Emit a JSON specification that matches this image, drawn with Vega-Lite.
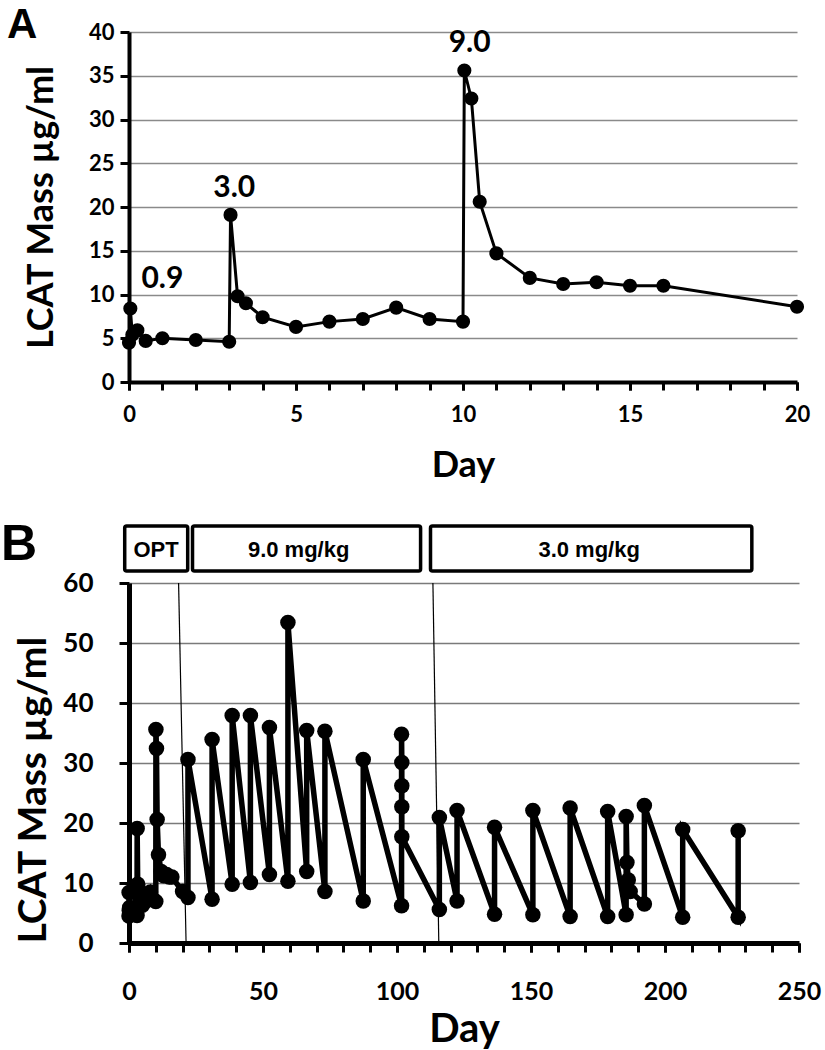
{
  "$schema": "https://vega.github.io/schema/vega-lite/v6.json",
  "background": "white",
  "padding": {"left": 1, "top": 3, "right": 5, "bottom": 0},
  "spacing": 37,
  "config": {"view": {"stroke": null}},
  "datasets": {
    "a": [
      {"i": 0, "day": 0, "v": 4.5}, {"i": 1, "day": 0.04, "v": 8.4}, {"i": 2, "day": 0.1, "v": 5.4},
      {"i": 3, "day": 0.25, "v": 5.9}, {"i": 4, "day": 0.5, "v": 4.7}, {"i": 5, "day": 1, "v": 5.0},
      {"i": 6, "day": 2, "v": 4.8}, {"i": 7, "day": 3, "v": 4.6}, {"i": 8, "day": 3.04, "v": 19.1},
      {"i": 9, "day": 3.25, "v": 9.8}, {"i": 10, "day": 3.5, "v": 9.0}, {"i": 11, "day": 4, "v": 7.4},
      {"i": 12, "day": 5, "v": 6.3}, {"i": 13, "day": 6, "v": 6.9}, {"i": 14, "day": 7, "v": 7.2},
      {"i": 15, "day": 8, "v": 8.5}, {"i": 16, "day": 9, "v": 7.2}, {"i": 17, "day": 10, "v": 6.9},
      {"i": 18, "day": 10.04, "v": 35.6}, {"i": 19, "day": 10.25, "v": 32.4}, {"i": 20, "day": 10.5, "v": 20.6},
      {"i": 21, "day": 11, "v": 14.7}, {"i": 22, "day": 12, "v": 11.9}, {"i": 23, "day": 13, "v": 11.2},
      {"i": 24, "day": 14, "v": 11.4}, {"i": 25, "day": 15, "v": 11.0}, {"i": 26, "day": 16, "v": 11.0},
      {"i": 27, "day": 20, "v": 8.6}
    ],
    "b": [
      {"i": 0, "day": 0, "v": 4.5}, {"i": 1, "day": 0.04, "v": 8.4}, {"i": 2, "day": 0.1, "v": 5.4},
      {"i": 3, "day": 0.25, "v": 5.9}, {"i": 4, "day": 0.5, "v": 4.7}, {"i": 5, "day": 1, "v": 5.0},
      {"i": 6, "day": 2, "v": 4.8}, {"i": 7, "day": 3, "v": 4.6}, {"i": 8, "day": 3.04, "v": 19.1},
      {"i": 9, "day": 3.25, "v": 9.8}, {"i": 10, "day": 3.5, "v": 9.0}, {"i": 11, "day": 4, "v": 7.4},
      {"i": 12, "day": 5, "v": 6.3}, {"i": 13, "day": 6, "v": 6.9}, {"i": 14, "day": 7, "v": 7.2},
      {"i": 15, "day": 8, "v": 8.5}, {"i": 16, "day": 9, "v": 7.2}, {"i": 17, "day": 10, "v": 6.9},
      {"i": 18, "day": 10.04, "v": 35.6}, {"i": 19, "day": 10.25, "v": 32.4}, {"i": 20, "day": 10.5, "v": 20.6},
      {"i": 21, "day": 11, "v": 14.7}, {"i": 22, "day": 12, "v": 11.9}, {"i": 23, "day": 13, "v": 11.2},
      {"i": 24, "day": 14, "v": 11.4}, {"i": 25, "day": 15, "v": 11.0}, {"i": 26, "day": 16, "v": 11.0},
      {"i": 27, "day": 20, "v": 8.6},
      {"i": 28, "day": 22, "v": 7.6}, {"i": 29, "day": 22, "v": 30.6},
      {"i": 30, "day": 31, "v": 7.3}, {"i": 31, "day": 31, "v": 33.9},
      {"i": 32, "day": 38.5, "v": 9.8}, {"i": 33, "day": 38.5, "v": 37.9},
      {"i": 34, "day": 45.3, "v": 10.1}, {"i": 35, "day": 45.3, "v": 37.9},
      {"i": 36, "day": 52.4, "v": 11.4}, {"i": 37, "day": 52.4, "v": 35.9},
      {"i": 38, "day": 59.3, "v": 10.3}, {"i": 39, "day": 59.3, "v": 53.4},
      {"i": 40, "day": 66.3, "v": 11.9}, {"i": 41, "day": 66.3, "v": 35.4},
      {"i": 42, "day": 73.1, "v": 8.6}, {"i": 43, "day": 73.1, "v": 35.3},
      {"i": 44, "day": 87.4, "v": 7.0}, {"i": 45, "day": 87.4, "v": 30.6},
      {"i": 46, "day": 101.7, "v": 6.2}, {"i": 47, "day": 101.7, "v": 34.8},
      {"i": 48, "day": 101.8, "v": 30.1}, {"i": 49, "day": 101.8, "v": 26.2},
      {"i": 50, "day": 101.8, "v": 22.7}, {"i": 51, "day": 101.8, "v": 17.7},
      {"i": 52, "day": 115.8, "v": 5.6}, {"i": 53, "day": 115.8, "v": 20.9},
      {"i": 54, "day": 122.4, "v": 7.0}, {"i": 55, "day": 122.4, "v": 22.1},
      {"i": 56, "day": 136.4, "v": 4.8}, {"i": 57, "day": 136.4, "v": 19.3},
      {"i": 58, "day": 150.7, "v": 4.7}, {"i": 59, "day": 150.7, "v": 22.1},
      {"i": 60, "day": 164.6, "v": 4.4}, {"i": 61, "day": 164.6, "v": 22.5},
      {"i": 62, "day": 178.6, "v": 4.4}, {"i": 63, "day": 178.6, "v": 21.9},
      {"i": 64, "day": 185.5, "v": 4.7}, {"i": 65, "day": 185.5, "v": 21.1},
      {"i": 66, "day": 185.8, "v": 13.4}, {"i": 67, "day": 186.3, "v": 10.5},
      {"i": 68, "day": 187, "v": 8.6},
      {"i": 69, "day": 192.3, "v": 6.5}, {"i": 70, "day": 192.3, "v": 22.9},
      {"i": 71, "day": 206.6, "v": 4.3}, {"i": 72, "day": 206.6, "v": 18.9},
      {"i": 73, "day": 227.3, "v": 4.3}, {"i": 74, "day": 227.3, "v": 18.7}
    ]
  },
  "vconcat": [
    {
      "width": 668,
      "height": 350,
      "resolve": {"axis": {"x": "independent"}},
      "layer": [
        {
          "data": {"name": "a"},
          "mark": {"type": "line", "color": "black", "strokeWidth": 3},
          "encoding": {
            "x": {
              "field": "day", "type": "quantitative",
              "scale": {"domain": [0, 20], "nice": false},
              "axis": {
                "orient": "bottom",
                "values": [0, 5, 10, 15, 20],
                "title": "Day", "grid": false,
                "domainColor": "black", "domainWidth": 4,
                "tickColor": "black", "tickWidth": 3, "tickSize": 8,
                "labelFont": "Lato", "labelFontWeight": "bold", "labelFontSize": 22, "labelColor": "black",
                "labelPadding": 14, "labelFlush": false, "labelOverlap": false,
                "titleFont": "Lato", "titleFontWeight": "bold", "titleFontSize": 36, "titleColor": "black",
                "titlePadding": 23
              }
            },
            "y": {
              "field": "v", "type": "quantitative",
              "scale": {"domain": [0, 40], "nice": false},
              "axis": {
                "values": [0,5,10,15,20,25,30,35,40],
                "title": "LCAT Mass µg/ml", "grid": true,
                "gridColor": "#8a8a8a", "gridWidth": 1.5,
                "domainColor": "black", "domainWidth": 4,
                "tickColor": "black", "tickWidth": 3, "tickSize": 9,
                "labelFont": "Lato", "labelFontWeight": "bold", "labelFontSize": 22, "labelColor": "black",
                "labelPadding": 6,
                "titleFont": "Lato", "titleFontWeight": "bold", "titleFontSize": 36, "titleColor": "black",
                "titlePadding": 28
              }
            },
            "order": {"field": "i", "type": "quantitative"}
          }
        },
        {
          "data": {"name": "a"},
          "mark": {"type": "circle", "color": "black", "opacity": 1, "size": 200},
          "encoding": {
            "x": {
              "field": "day", "type": "quantitative",
              "axis": {
                "orient": "bottom",
                "values": [0,1,2,3,4,5,6,7,8,9,10,11,12,13,14,15,16,17,18,19,20],
                "labels": false, "domain": false, "grid": false, "title": null,
                "tickColor": "black", "tickWidth": 3, "tickSize": 8
              }
            },
            "y": {"field": "v", "type": "quantitative"}
          }
        },
        {
          "data": {"values": [
            {"label": "0.9", "day": 1.0, "v": 11.8},
            {"label": "3.0", "day": 3.15, "v": 22.2},
            {"label": "9.0", "day": 10.2, "v": 38.7}
          ]},
          "mark": {"type": "text", "font": "Lato", "fontWeight": "bold", "fontSize": 30, "color": "black", "baseline": "middle", "align": "center"},
          "encoding": {
            "x": {"field": "day", "type": "quantitative", "axis": null},
            "y": {"field": "v", "type": "quantitative"},
            "text": {"field": "label"}
          }
        },
        {
          "data": {"values": [{"label": "A", "day": -3.2, "v": 40.8}]},
          "mark": {"type": "text", "font": "Liberation Sans", "fontWeight": "bold", "fontSize": 42, "color": "black", "baseline": "middle", "align": "center"},
          "encoding": {
            "x": {"field": "day", "type": "quantitative", "axis": null},
            "y": {"field": "v", "type": "quantitative"},
            "text": {"field": "label"}
          }
        }
      ]
    },
    {
      "width": 670,
      "height": 360,
      "resolve": {"axis": {"x": "independent"}},
      "layer": [
        {
          "data": {"name": "b"},
          "mark": {"type": "line", "color": "black", "strokeWidth": 5.5},
          "encoding": {
            "x": {
              "field": "day", "type": "quantitative",
              "scale": {"domain": [0, 250], "nice": false},
              "axis": {
                "orient": "bottom",
                "values": [0, 50, 100, 150, 200, 250],
                "title": "Day", "grid": false,
                "domainColor": "black", "domainWidth": 5,
                "tickColor": "black", "tickWidth": 3, "tickSize": 9,
                "labelFont": "Lato", "labelFontWeight": "bold", "labelFontSize": 25, "labelColor": "black",
                "labelPadding": 27, "labelFlush": false, "labelOverlap": false,
                "titleFont": "Lato", "titleFontWeight": "bold", "titleFontSize": 40, "titleColor": "black",
                "titlePadding": 5
              }
            },
            "y": {
              "field": "v", "type": "quantitative",
              "scale": {"domain": [0, 60], "nice": false},
              "axis": {
                "values": [0,5,10,15,20,25,30,35,40,45,50,55,60],
                "labelExpr": "datum.value % 10 === 0 ? datum.label : ''",
                "title": "LCAT Mass µg/ml", "grid": true,
                "gridColor": "#7a7a7a", "gridWidth": 1.5,
                "gridOpacity": {"condition": {"test": "datum.value % 10 === 0", "value": 1}, "value": 0},
                "domainColor": "black", "domainWidth": 5,
                "tickColor": "black", "tickWidth": 3, "tickSize": 10,
                "labelFont": "Lato", "labelFontWeight": "bold", "labelFontSize": 26, "labelColor": "black",
                "labelPadding": 26,
                "titleFont": "Lato", "titleFontWeight": "bold", "titleFontSize": 39, "titleColor": "black",
                "titlePadding": 9, "titleAnchor": "start"
              }
            },
            "order": {"field": "i", "type": "quantitative"}
          }
        },
        {
          "data": {"name": "b"},
          "mark": {"type": "circle", "color": "black", "opacity": 1, "size": 240},
          "encoding": {
            "x": {
              "field": "day", "type": "quantitative",
              "axis": {
                "orient": "bottom",
                "values": [0,10,20,30,40,50,60,70,80,90,100,110,120,130,140,150,160,170,180,190,200,210,220,230,240,250],
                "labels": false, "domain": false, "grid": false, "title": null,
                "tickColor": "black", "tickWidth": 3, "tickSize": 9
              }
            },
            "y": {"field": "v", "type": "quantitative"}
          }
        },
        {
          "data": {"values": [
            {"day": 18.5, "v": 60, "day2": 21.3, "v2": 0},
            {"day": 113.4, "v": 60, "day2": 115.6, "v2": 0}
          ]},
          "mark": {"type": "rule", "color": "black", "strokeWidth": 1.2},
          "encoding": {
            "x": {"field": "day", "type": "quantitative", "axis": null},
            "x2": {"field": "day2"},
            "y": {"field": "v", "type": "quantitative"},
            "y2": {"field": "v2"}
          }
        },
        {
          "data": {"values": [
            {"label": "OPT", "x1": -1.6, "x2": 21.9, "y1": 62.0, "y2": 69.5},
            {"label": "9.0 mg/kg", "x1": 23.7, "x2": 108.8, "y1": 62.0, "y2": 69.5},
            {"label": "3.0 mg/kg", "x1": 112.5, "x2": 232.4, "y1": 62.0, "y2": 69.5}
          ]},
          "mark": {"type": "rect", "fill": "white", "stroke": "black", "strokeWidth": 3.5, "cornerRadius": 2},
          "encoding": {
            "x": {"field": "x1", "type": "quantitative", "axis": null},
            "x2": {"field": "x2"},
            "y": {"field": "y1", "type": "quantitative"},
            "y2": {"field": "y2"}
          }
        },
        {
          "data": {"values": [
            {"label": "OPT", "cx": 10.1, "cy": 65.5},
            {"label": "9.0 mg/kg", "cx": 63.3, "cy": 65.5},
            {"label": "3.0 mg/kg", "cx": 171.7, "cy": 65.5}
          ]},
          "mark": {"type": "text", "font": "Liberation Sans", "fontWeight": "bold", "fontSize": 22, "color": "black", "baseline": "middle", "align": "center"},
          "encoding": {
            "x": {"field": "cx", "type": "quantitative", "axis": null},
            "y": {"field": "cy", "type": "quantitative"},
            "text": {"field": "label"}
          }
        },
        {
          "data": {"values": [{"label": "B", "day": -41, "v": 66.3}]},
          "mark": {"type": "text", "font": "Liberation Sans", "fontWeight": "bold", "fontSize": 50, "color": "black", "baseline": "middle", "align": "center"},
          "encoding": {
            "x": {"field": "day", "type": "quantitative", "axis": null},
            "y": {"field": "v", "type": "quantitative"},
            "text": {"field": "label"}
          }
        }
      ]
    }
  ]
}
